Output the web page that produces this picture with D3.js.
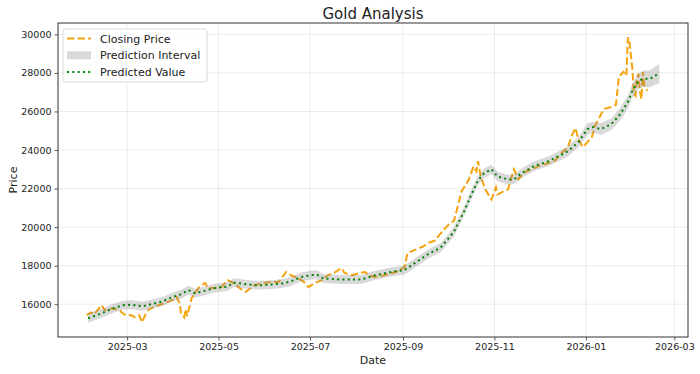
<!DOCTYPE html>
<html>
<head>
<meta charset="utf-8">
<script src="https://cdn.jsdelivr.net/npm/d3@7"></script>
<style>
  body { margin: 0; background: #fff; }
  text { font-family: "DejaVu Sans", sans-serif; fill: #222; }
</style>
</head>
<body>
<div id="chart"></div>
<script>
// Closing price
const closeDates = [
  "2025-02-02","2025-02-05","2025-02-07","2025-02-12","2025-02-14","2025-02-19","2025-02-24","2025-02-26","2025-02-28",
  "2025-03-04","2025-03-06","2025-03-09","2025-03-11","2025-03-13","2025-03-15","2025-03-17","2025-03-22","2025-03-26","2025-03-31",
  "2025-04-03","2025-04-05","2025-04-06","2025-04-08","2025-04-09","2025-04-10","2025-04-13","2025-04-18","2025-04-22","2025-04-24","2025-04-28",
  "2025-05-03","2025-05-07","2025-05-11","2025-05-16","2025-05-19","2025-05-25","2025-05-31",
  "2025-06-05","2025-06-10","2025-06-15","2025-06-18","2025-06-23","2025-06-27","2025-06-30",
  "2025-07-04","2025-07-09","2025-07-13","2025-07-17","2025-07-22","2025-07-24","2025-07-29",
  "2025-08-03","2025-08-07","2025-08-09","2025-08-13","2025-08-20","2025-08-27",
  "2025-09-02","2025-09-04","2025-09-09","2025-09-14","2025-09-18","2025-09-22","2025-09-27",
  "2025-10-02","2025-10-05","2025-10-08","2025-10-10","2025-10-15","2025-10-18","2025-10-20","2025-10-21","2025-10-23","2025-10-26","2025-10-30",
  "2025-11-02","2025-11-03","2025-11-07","2025-11-10","2025-11-14","2025-11-17","2025-11-21","2025-11-30",
  "2025-12-11","2025-12-15","2025-12-20","2025-12-23","2025-12-25","2025-12-27","2025-12-30",
  "2026-01-05","2026-01-07","2026-01-13","2026-01-18","2026-01-21","2026-01-23","2026-01-26","2026-01-28","2026-01-29","2026-01-30",
  "2026-02-01","2026-02-02","2026-02-03","2026-02-04","2026-02-05","2026-02-06","2026-02-07","2026-02-08","2026-02-09","2026-02-11"
];
const closeValues = [
  15430,15580,15480,15950,15690,15790,15690,15530,15430,
  15430,15320,15430,15060,15430,15690,15790,15950,16050,16210,
  16370,16050,15530,15320,15740,15370,16310,16890,17100,16840,16840,
  16890,17250,17100,16780,16630,16990,17100,
  17150,17150,17670,17510,17360,17150,16890,
  17100,17250,17510,17620,17880,17620,17510,
  17620,17670,17510,17410,17510,17670,
  17930,18660,18820,18980,19190,19290,19760,
  20180,20330,21220,21850,22480,23150,22890,23420,22580,21950,21430,
  22060,21690,21850,21950,23000,22480,22840,23150,
  23420,23780,24150,24830,25140,24560,24150,
  24670,25240,26130,26230,26340,27800,28060,27850,29850,29630,
  28220,26910,26810,27700,27960,27070,26650,28060,27330,27070
];

// Predicted value and half width of the prediction interval
const predDates = [
  "2025-02-03","2025-02-12","2025-02-19","2025-02-26","2025-03-04","2025-03-11","2025-03-17","2025-03-24","2025-03-31",
  "2025-04-06","2025-04-11","2025-04-15","2025-04-20","2025-04-28","2025-05-07","2025-05-11","2025-05-16","2025-05-25","2025-05-30",
  "2025-06-05","2025-06-12","2025-06-18","2025-06-25","2025-07-02","2025-07-06","2025-07-10","2025-07-22","2025-08-04","2025-08-13","2025-08-24",
  "2025-09-02","2025-09-08","2025-09-18","2025-09-26","2025-10-05","2025-10-12","2025-10-16","2025-10-21","2025-10-25","2025-10-30",
  "2025-11-03","2025-11-10","2025-11-14","2025-11-19","2025-11-27","2025-12-07","2025-12-15","2025-12-20","2025-12-27",
  "2026-01-02","2026-01-06","2026-01-11","2026-01-18","2026-01-24","2026-01-29","2026-02-01","2026-02-05","2026-02-09","2026-02-13","2026-02-16","2026-02-19"
];
const predValues = [
  15270,15530,15765,15950,15975,15895,16000,16130,16365,
  16520,16730,16575,16655,16835,16915,17120,17070,16990,16990,
  17020,17070,17175,17410,17515,17515,17330,17280,17280,17490,17670,
  17775,18090,18610,18925,19760,20855,21585,22425,22790,23000,
  22630,22475,22475,22790,23155,23415,23730,23935,24410,
  25085,25190,25085,25345,25870,26495,27070,27595,27700,27700,27855,27960
];
const predHalfWidth = [
  230,230,230,230,230,230,230,230,230,
  230,230,230,230,230,230,230,230,230,230,
  230,230,230,230,230,230,230,230,230,230,230,
  235,235,240,240,245,245,245,245,245,245,
  245,245,245,245,250,250,260,260,270,
  290,290,300,310,330,350,370,400,420,440,470,500
];

const yTicks = [16000, 18000, 20000, 22000, 24000, 26000, 28000, 30000];

const width = 700, height = 374;
const margin = {top: 23, right: 12, bottom: 37, left: 58};
const innerW = width - margin.left - margin.right,
  innerH = height - margin.top - margin.bottom;

const parse = d3.utcParse("%Y-%m-%d");
const closing = closeDates.map((d, i) => ({date: parse(d), value: closeValues[i]}));
const predicted = predDates.map((d, i) => ({date: parse(d), value: predValues[i], half: predHalfWidth[i]}));

// matplotlib-style 5% padding
const allDates = closing.map(d => d.date).concat(predicted.map(d => d.date));
const xExt = d3.extent(allDates);
const xPad = (xExt[1] - xExt[0]) * 0.05;
const yMin = d3.min([d3.min(closing, d => d.value), d3.min(predicted, d => d.value - d.half)]);
const yMax = d3.max([d3.max(closing, d => d.value), d3.max(predicted, d => d.value + d.half)]);
const yPad = (yMax - yMin) * 0.05;

const x = d3.scaleUtc()
  .domain([new Date(+xExt[0] - xPad), new Date(+xExt[1] + xPad)])
  .range([0, innerW]);
const y = d3.scaleLinear()
  .domain([yMin - yPad, yMax + yPad])
  .range([innerH, 0]);

const svg = d3.select("#chart").append("svg")
  .attr("width", width)
  .attr("height", height);

const g = svg.append("g")
  .attr("transform", "translate(" + margin.left + "," + margin.top + ")");

const xTicks = x.ticks(d3.utcMonth.every(2));

// Grid
g.append("g").selectAll("line").data(xTicks).enter().append("line")
  .attr("x1", d => x(d)).attr("x2", d => x(d))
  .attr("y1", 0).attr("y2", innerH)
  .attr("stroke", "#b0b0b0").attr("stroke-opacity", 0.3).attr("stroke-width", 0.8);
g.append("g").selectAll("line").data(yTicks).enter().append("line")
  .attr("x1", 0).attr("x2", innerW)
  .attr("y1", d => y(d)).attr("y2", d => y(d))
  .attr("stroke", "#b0b0b0").attr("stroke-opacity", 0.3).attr("stroke-width", 0.8);

svg.append("defs").append("clipPath").attr("id", "clip")
  .append("rect").attr("width", innerW).attr("height", innerH);
const plot = g.append("g").attr("clip-path", "url(#clip)");

// Closing price
plot.append("path")
  .datum(closing)
  .attr("fill", "none")
  .attr("stroke", "#f5a30f")
  .attr("stroke-width", 2)
  .attr("stroke-dasharray", "7.4,3.2")
  .attr("d", d3.line().x(d => x(d.date)).y(d => y(d.value)));

// Prediction interval
plot.append("path")
  .datum(predicted)
  .attr("fill", "#808080")
  .attr("fill-opacity", 0.3)
  .attr("d", d3.area().x(d => x(d.date)).y0(d => y(d.value - d.half)).y1(d => y(d.value + d.half)));

// Predicted value
plot.append("path")
  .datum(predicted)
  .attr("fill", "none")
  .attr("stroke", "#008000")
  .attr("stroke-width", 2)
  .attr("stroke-dasharray", "2,3.3")
  .attr("d", d3.line().x(d => x(d.date)).y(d => y(d.value)));

// Axes
const xAxis = g.append("g")
  .attr("transform", "translate(0," + innerH + ")")
  .call(d3.axisBottom(x).tickValues(xTicks).tickFormat(d3.utcFormat("%Y-%m")).tickSize(3.5).tickPadding(3));
const yAxis = g.append("g")
  .call(d3.axisLeft(y).tickValues(yTicks).tickFormat(d3.format("d")).tickSize(3.5).tickPadding(3));
[xAxis, yAxis].forEach(a => {
  a.select(".domain").remove();
  a.selectAll(".tick line").attr("stroke", "#333").attr("stroke-width", 0.8);
  a.selectAll(".tick text").style("font-size", "9.5px").style("font-family", "DejaVu Sans").attr("fill", "#222");
});

// Frame
g.append("rect")
  .attr("width", innerW).attr("height", innerH)
  .attr("fill", "none").attr("stroke", "#333").attr("stroke-width", 1);

// Title and labels
svg.append("text")
  .attr("x", margin.left + innerW / 2).attr("y", 19)
  .attr("text-anchor", "middle")
  .style("font-size", "15px")
  .text("Gold Analysis");
svg.append("text")
  .attr("x", margin.left + innerW / 2).attr("y", 364)
  .attr("text-anchor", "middle")
  .style("font-size", "11px")
  .text("Date");
svg.append("text")
  .attr("transform", "translate(17," + (margin.top + innerH / 2) + ") rotate(-90)")
  .attr("text-anchor", "middle")
  .style("font-size", "11px")
  .text("Price");

// Legend
const legend = svg.append("g").attr("transform", "translate(63,29)");
legend.append("rect")
  .attr("width", 144).attr("height", 53).attr("rx", 3)
  .attr("fill", "#fff").attr("fill-opacity", 0.8)
  .attr("stroke", "#d0d0d0").attr("stroke-width", 0.8);
const items = [
  {label: "Closing Price", type: "dash"},
  {label: "Prediction Interval", type: "patch"},
  {label: "Predicted Value", type: "dot"}
];
items.forEach((it, i) => {
  const cy = 9.5 + i * 16.7;
  if (it.type === "dash") {
    legend.append("line").attr("x1", 4).attr("x2", 28).attr("y1", cy).attr("y2", cy)
      .attr("stroke", "#f5a30f").attr("stroke-width", 2).attr("stroke-dasharray", "7.4,3.2");
  } else if (it.type === "patch") {
    legend.append("rect").attr("x", 4).attr("y", cy - 4).attr("width", 24).attr("height", 8)
      .attr("fill", "#808080").attr("fill-opacity", 0.3);
  } else {
    legend.append("line").attr("x1", 4).attr("x2", 28).attr("y1", cy).attr("y2", cy)
      .attr("stroke", "#008000").attr("stroke-width", 2).attr("stroke-dasharray", "2,3.3");
  }
  legend.append("text").attr("x", 37).attr("y", cy + 4)
    .style("font-size", "11px").text(it.label);
});
</script>
</body>
</html>
